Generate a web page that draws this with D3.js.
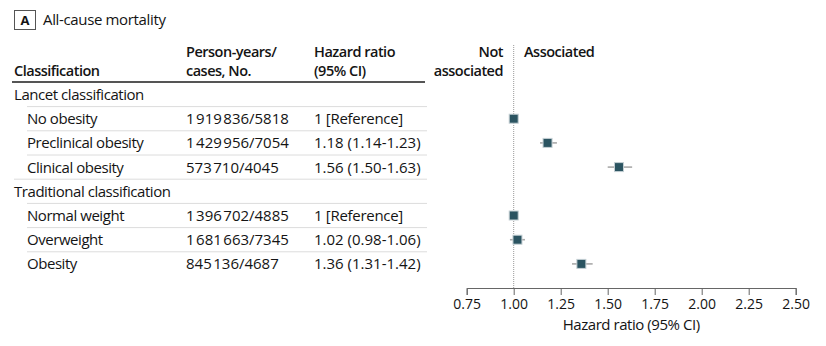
<!DOCTYPE html>
<html>
<head>
<meta charset="utf-8">
<script src="https://cdn.jsdelivr.net/npm/d3@7"></script>
<style>
  body { margin: 0; background: #fff; }
  svg text { font-family: "Open Sans", Lato, sans-serif; fill: #141414; }
</style>
</head>
<body>
<svg id="chart" width="826" height="346"></svg>
<script>
// data
var groups = ["Lancet classification", "Traditional classification"];
var categories = ["No obesity", "Preclinical obesity", "Clinical obesity",
                  "Normal weight", "Overweight", "Obesity"];
var categoryGroup = [0, 0, 0, 1, 1, 1];
var personYears = [1919836, 1429956, 573710, 1396702, 1681663, 845136];
var cases = [5818, 7054, 4045, 4885, 7345, 4687];
var hr = [1, 1.18, 1.56, 1, 1.02, 1.36];
var ciLow = [null, 1.14, 1.50, null, 0.98, 1.31];
var ciHigh = [null, 1.23, 1.63, null, 1.06, 1.42];
var xTicks = [0.75, 1, 1.25, 1.5, 1.75, 2, 2.25, 2.5];

var svg = d3.select("#chart");
var fs = 15;      // body text
var hs = 14.5;    // bold headers
var lsText = -0.45, lsHead = -0.5;

// rows: group title followed by its categories
var rows = [];
groups.forEach(function (g, gi) {
    rows.push({ label: g, header: true });
    categories.forEach(function (c, i) {
        if (categoryGroup[i] === gi) rows.push({ label: c, header: false, i: i });
    });
});

var y = d3.scalePoint()
    .domain(d3.range(rows.length))
    .range([94.5, 263.9]);
var step = y.step();

var x = d3.scaleLinear()
    .domain([0.75, 2.5])
    .range([466.7, 795.7]);

// panel title
svg.append("rect")
    .attr("x", 14.5).attr("y", 10.5)
    .attr("width", 21).attr("height", 19)
    .attr("fill", "none").attr("stroke", "#555");
svg.append("text")
    .attr("x", 25).attr("y", 25)
    .attr("text-anchor", "middle")
    .attr("font-weight", "bold").attr("font-size", 13)
    .text("A");
svg.append("text")
    .attr("x", 43).attr("y", 25)
    .attr("font-size", fs).attr("letter-spacing", -0.35)
    .text("All-cause mortality");

// column headers
var colPY = 186, colHR = 314;
svg.append("text").attr("x", 14).attr("y", 76)
    .attr("font-weight", 600).attr("font-size", hs).attr("letter-spacing", lsHead)
    .text("Classification");
[["Person-years/", "cases, No.", colPY], ["Hazard ratio", "(95% CI)", colHR]]
    .forEach(function (h) {
        var t = svg.append("text").attr("font-weight", 600)
            .attr("font-size", hs).attr("letter-spacing", lsHead);
        t.append("tspan").attr("x", h[2]).attr("y", 57).text(h[0]);
        t.append("tspan").attr("x", h[2]).attr("y", 76).text(h[1]);
    });
svg.append("line")
    .attr("x1", 12).attr("x2", 425)
    .attr("y1", 82).attr("y2", 82)
    .attr("stroke", "#555").attr("stroke-width", 2);

// row separators
rows.forEach(function (r, k) {
    if (k === rows.length - 1) return;
    var next = rows[k + 1];
    var yy = y(k) + step / 2;
    svg.append("line")
        .attr("x1", next.header ? 14 : 27).attr("x2", 427)
        .attr("y1", yy).attr("y2", yy)
        .attr("stroke", "#dcdcdc").attr("stroke-width", 1);
});

var fmtPY = function (v) { return d3.format(",")(v).replace(/,/g, "\u200A"); };

var rowG = svg.selectAll("g.row")
    .data(rows)
    .join("g")
    .attr("class", "row")
    .attr("transform", function (d, k) { return "translate(0," + (y(k) + 5.5) + ")"; });

rowG.append("text")
    .attr("x", function (d) { return d.header ? 14 : 27; })
    .attr("font-size", fs).attr("letter-spacing", lsText)
    .text(function (d) { return d.label; });

rowG.filter(function (d) { return !d.header; })
    .append("text")
    .attr("x", colPY).attr("font-size", fs)
    .text(function (d) { return fmtPY(personYears[d.i]) + "/" + cases[d.i]; });

rowG.filter(function (d) { return !d.header; })
    .append("text")
    .attr("x", colHR).attr("font-size", fs)
    .attr("letter-spacing", function (d) { return ciLow[d.i] === null ? -0.3 : 0; })
    .text(function (d) {
        if (ciLow[d.i] === null) return "1 [Reference]";
        return hr[d.i].toFixed(2) + " (" + ciLow[d.i].toFixed(2) + "-" + ciHigh[d.i].toFixed(2) + ")";
    });

// forest plot header
var nt = svg.append("text").attr("font-weight", 600).attr("font-size", hs)
    .attr("letter-spacing", lsHead).attr("text-anchor", "end");
nt.append("tspan").attr("x", 503).attr("y", 57).text("Not");
nt.append("tspan").attr("x", 503).attr("y", 76).text("associated");
svg.append("text").attr("x", 524).attr("y", 57)
    .attr("font-weight", 600).attr("font-size", hs).attr("letter-spacing", lsHead)
    .text("Associated");

// reference line at HR = 1
svg.append("line")
    .attr("x1", x(1)).attr("x2", x(1))
    .attr("y1", 45).attr("y2", 288)
    .attr("stroke", "#999").attr("stroke-width", 1)
    .attr("stroke-dasharray", "1,1");

// axis
var axis = svg.append("g")
    .attr("transform", "translate(0,288)")
    .call(d3.axisBottom(x).tickValues(xTicks).tickSize(7).tickPadding(4)
        .tickFormat(function (d) { return d.toFixed(2); }));
axis.select(".domain").attr("stroke", "#666");
axis.selectAll(".tick line").attr("stroke", "#666");
axis.selectAll(".tick text")
    .attr("font-size", 14)
    .attr("font-family", "'Open Sans', Lato, sans-serif")
    .attr("fill", "#141414");
svg.append("text")
    .attr("x", x(1.625)).attr("y", 330)
    .attr("text-anchor", "middle").attr("font-size", fs).attr("letter-spacing", lsText)
    .text("Hazard ratio (95% CI)");

// CIs and point estimates
var pts = rows.map(function (r, k) { return { r: r, k: k }; })
    .filter(function (d) { return !d.r.header; });

svg.selectAll("line.ci")
    .data(pts.filter(function (d) { return ciLow[d.r.i] !== null; }))
    .join("line")
    .attr("class", "ci")
    .attr("x1", function (d) { return x(ciLow[d.r.i]); })
    .attr("x2", function (d) { return x(ciHigh[d.r.i]); })
    .attr("y1", function (d) { return y(d.k); })
    .attr("y2", function (d) { return y(d.k); })
    .attr("stroke", "#aaa").attr("stroke-width", 1.6);

var sq = 9;
svg.selectAll("rect.pt")
    .data(pts)
    .join("rect")
    .attr("class", "pt")
    .attr("x", function (d) { return x(hr[d.r.i]) - sq / 2; })
    .attr("y", function (d) { return y(d.k) - sq / 2; })
    .attr("width", sq).attr("height", sq)
    .attr("fill", "#2b5461")
    .attr("stroke", "#c5d0d4").attr("stroke-width", 1);
</script>
</body>
</html>
